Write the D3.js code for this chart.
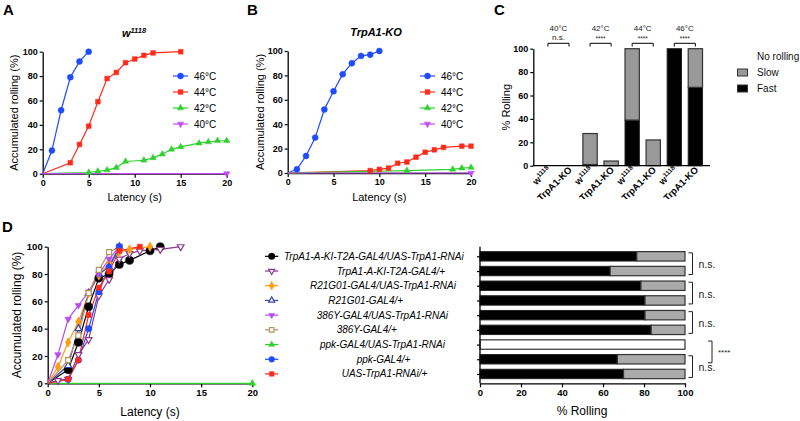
<!DOCTYPE html>
<html><head><meta charset="utf-8">
<script src="https://cdn.jsdelivr.net/npm/d3@7"></script>
<style>
body{margin:0;background:#fff}
svg{display:block}
text{font-family:"Liberation Sans",Arial,Helvetica,sans-serif}
</style>
</head><body>
<svg id="c" width="800" height="421"></svg>
<script>
// ---------------- DATA ----------------
const tempLabels = ["46°C", "44°C", "42°C", "40°C"];
// Panel A: w1118 accumulated rolling (%) vs latency (s)
const a46 = [[0,0],[1,19],[2,52],[3,79],[4,92],[5,100]];
const a44 = [[0,0],[3,9],[4,24],[5,39],[6,59],[7,78],[8,83],[9,91],[10,94],[11,97],[12,99],[15,100]];
const a42 = [[0,0],[5,1],[6,2],[7,3],[8,5],[9,10],[11,11],[12,13],[13,16],[14,20],[15,22],[17,25],[18,26],[19,27],[20,27]];
const a40 = [[0,0],[20,0]];
// Panel B: TrpA1-KO
const b46 = [[0,0],[1,3],[2,14],[3,29],[4,52],[5,67],[6,81],[7,90],[8,96],[9,97],[10,100]];
const b44 = [[0,0],[9,2],[10,3],[11,4],[12,8],[13,9],[14,13],[15,17],[16,19],[17,21],[19,22],[20,22]];
const b42 = [[0,0],[13,2],[18,3],[19,4],[20,4.5]];
const b40 = [[0,0],[20,0]];
const latencyTicks = [0,5,10,15,20];
const percentTicks = [0,20,40,60,80,100];

// Panel C
const cGroups = ["40°C", "42°C", "44°C", "46°C"];
const cSig = ["n.s.", "****", "****", "****"];
const cGenotypes = ["w1118", "TrpA1-KO"];
const cFast = [0, 0, 1, 0, 39, 0, 100, 67];
const cSlow = [0, 0, 26.5, 4, 61, 22, 0, 33];
const cLegend = ["No rolling", "Slow", "Fast"];

// Panel D
const dGenotypes = [
  "TrpA1-A-KI-T2A-GAL4/UAS-TrpA1-RNAi",
  "TrpA1-A-KI-T2A-GAL4/+",
  "R21G01-GAL4/UAS-TrpA1-RNAi",
  "R21G01-GAL4/+",
  "386Y-GAL4/UAS-TrpA1-RNAi",
  "386Y-GAL4/+",
  "ppk-GAL4/UAS-TrpA1-RNAi",
  "ppk-GAL4/+",
  "UAS-TrpA1-RNAi/+"
];
const d1 = [[0,0],[2,10],[3,30],[4,56],[5,77],[6,80],[7,87],[8,90],[10,97],[11,100]];
const d2 = [[0,0],[1,2],[2,3],[3,21],[4,32],[5,64],[6,76],[7,91],[8,95],[9,97],[11,98],[13,100]];
const d3s = [[0,0],[1,12],[2,30],[3,45],[4,66],[5,79],[6,88],[7,96],[8,98],[10,100]];
const d4 = [[0,0],[2,13],[3,40],[4,66],[5,80],[6,85],[7,100]];
const d5 = [[0,0],[1,21],[2,47],[3,57],[4,67],[5,80],[6,91],[7,100]];
const d6 = [[0,0],[2,17],[3,35],[4,66],[5,83],[6,96],[7,100]];
const d7 = [[0,0],[20,0]];
const d8 = [[0,0],[2,3],[3,17],[4,40],[5,67],[6,85],[7,100]];
const d9 = [[0,0],[2,3],[3,17],[4,50],[5,70],[6,82],[7,97],[9,100]];
const dFast = [76.5, 63.5, 78.5, 80.5, 80.5, 83.5, 0, 67, 70];
const dSlow = [23.5, 36.5, 21.5, 19.5, 19.5, 16.5, 0, 33, 30];
const dNone = [0, 0, 0, 0, 0, 0, 100, 0, 0];
const dPairs = [[0,1,"n.s."],[2,3,"n.s."],[4,5,"n.s."],[7,8,"n.s."]];
const dStarPair = [6,7,"****"];
const rollTicks = [0,20,40,60,80,100];

// ---------------- DRAWING ----------------
const svg = d3.select("#c");
const FONT = '"Liberation Sans",Arial,Helvetica,sans-serif';

const triDown = {draw(ctx, size){
  const sqrt3 = Math.sqrt(3);
  const yy = -Math.sqrt(size / (sqrt3 * 3));
  ctx.moveTo(0, -yy * 2); ctx.lineTo(-sqrt3 * yy, yy); ctx.lineTo(sqrt3 * yy, yy); ctx.closePath(); }};
const SYM = {circle: d3.symbolCircle, square: d3.symbolSquare, tri: d3.symbolTriangle, triDown: triDown, diamond: d3.symbolDiamond};
const SYMK = {circle: 1, square: 0.8, tri: 0.62, triDown: 0.62, diamond: 0.85};

function styleAxis(g, size) {
  g.select(".domain").attr("stroke", "#000").attr("stroke-width", 1.3);
  g.selectAll(".tick line").attr("stroke", "#000").attr("stroke-width", 1.2);
  g.selectAll(".tick text").attr("font-family", FONT).attr("font-weight", "bold")
    .attr("font-size", size || 9).attr("fill", "#000");
}

function marker(g, x, y, s, size) {
  const p = d3.symbol().type(SYM[s.sym]).size(size * SYMK[s.sym])();
  g.append("path").attr("d", p).attr("transform", `translate(${x},${y})`)
    .attr("fill", s.open ? "#fff" : s.color).attr("stroke", s.color)
    .attr("stroke-width", s.open ? 1.2 : 0.5);
}

function lineChart(o) {
  const x = d3.scaleLinear().domain([0, 20]).range(o.xr);
  const y = d3.scaleLinear().domain([0, 100]).range(o.yr);
  const gx = svg.append("g").attr("transform", `translate(0,${o.yr[0]})`)
    .call(d3.axisBottom(x).tickValues(latencyTicks).tickSize(4).tickSizeOuter(0).tickPadding(2));
  styleAxis(gx, o.tickFont);
  const gy = svg.append("g").attr("transform", `translate(${o.xr[0]},0)`)
    .call(d3.axisLeft(y).tickValues(percentTicks).tickSize(3).tickSizeOuter(0).tickPadding(2));
  styleAxis(gy, o.tickFont);
  const line = d3.line().x(d => x(d[0])).y(d => y(d[1]));
  const g = svg.append("g");
  o.series.forEach(s => {
    g.append("path").attr("d", line(s.data)).attr("fill", "none")
      .attr("stroke", s.color).attr("stroke-width", 1.2);
  });
  o.series.forEach(s => {
    s.data.filter(d => d[0] > 0).forEach(d => marker(g, x(d[0]), y(d[1]), s, o.msize * (s.scale || 1)));
  });
  svg.append("text").attr("x", (o.xr[0] + o.xr[1]) / 2).attr("y", o.xlabY)
    .attr("text-anchor", "middle").attr("font-size", o.labFont).attr("fill", "#000").text("Latency (s)");
  svg.append("text").attr("transform", `translate(${o.ylabX},${(o.yr[0] + o.yr[1]) / 2}) rotate(-90)`)
    .attr("text-anchor", "middle").attr("font-size", o.labFont).attr("fill", "#000").text("Accumulated rolling (%)");
  return {x, y};
}

function tempLegend(lx, ly, series) {
  series.forEach((s, i) => {
    const yy = ly + i * 16;
    svg.append("line").attr("x1", lx).attr("x2", lx + 15).attr("y1", yy).attr("y2", yy)
      .attr("stroke", s.color).attr("stroke-width", 1.2);
    marker(svg, lx + 7.5, yy, s, 28);
    svg.append("text").attr("x", lx + 21).attr("y", yy + 3.6).attr("font-size", 10).attr("fill", "#000").text(tempLabels[i]);
  });
}

function panelLabel(t, x, y) {
  svg.append("text").attr("x", x).attr("y", y).attr("font-size", 15).attr("font-weight", "bold").attr("fill", "#000").text(t);
}

const COL = {b46: "#1f4bff", r44: "#ff2a1a", g42: "#2ed12e", v40: "#c34cf5"};

// Panel A
panelLabel("A", 3, 15);
const tA = svg.append("text").attr("x", 134).attr("y", 37).attr("text-anchor", "middle")
  .attr("font-size", 11).attr("font-weight", "bold").attr("font-style", "italic").attr("fill", "#000");
tA.append("tspan").text("w");
tA.append("tspan").attr("dy", -4).attr("font-size", 7.5).text("1118");
const seriesA = [
  {data: a46, color: COL.b46, sym: "circle"},
  {data: a44, color: COL.r44, sym: "square"},
  {data: a42, color: COL.g42, sym: "tri"},
  {data: a40, color: COL.v40, sym: "triDown"}
];
lineChart({xr: [42.7, 226.7], yr: [173.7, 51.7], series: seriesA, msize: 28, tickFont: 9,
  labFont: 11, xlabY: 201, ylabX: 18});
tempLegend(173, 76, seriesA);

// Panel B
panelLabel("B", 247, 15);
svg.append("text").attr("x", 376).attr("y", 36).attr("text-anchor", "middle")
  .attr("font-size", 11).attr("font-weight", "bold").attr("font-style", "italic").attr("fill", "#000").text("TrpA1-KO");
const seriesB = [
  {data: b46, color: COL.b46, sym: "circle"},
  {data: b44, color: COL.r44, sym: "square"},
  {data: b42, color: COL.g42, sym: "tri"},
  {data: b40, color: COL.v40, sym: "triDown"}
];
lineChart({xr: [287.7, 471], yr: [173, 51], series: seriesB, msize: 28, tickFont: 9,
  labFont: 11, xlabY: 201, ylabX: 263.5});
tempLegend(420, 76, seriesB);

// Panel C
panelLabel("C", 494, 15);
const cCats = [];
cGroups.forEach((g, gi) => cGenotypes.forEach((t, ti) => cCats.push(gi * 2 + ti)));
const cx = d3.scaleBand().domain(cCats).range([533.3, 710]).paddingInner(0.32).paddingOuter(0.355);
const cy = d3.scaleLinear().domain([0, 100]).range([165.7, 48.7]);
svg.append("defs").append("clipPath").attr("id", "clipC")
  .append("rect").attr("x", 470).attr("y", 0).attr("width", 330).attr("height", 199);
const gC = svg.append("g");
cCats.forEach(i => {
  const f = cFast[i], s = cSlow[i];
  if (f > 0) gC.append("rect").attr("x", cx(i)).attr("width", cx.bandwidth())
    .attr("y", cy(f)).attr("height", cy(0) - cy(f)).attr("fill", "#000").attr("stroke", "#222").attr("stroke-width", 1);
  if (s > 0) gC.append("rect").attr("x", cx(i)).attr("width", cx.bandwidth())
    .attr("y", cy(f + s)).attr("height", cy(f) - cy(f + s)).attr("fill", "#999").attr("stroke", "#333").attr("stroke-width", 1.2);
});
const gCy = svg.append("g").attr("transform", "translate(533.3,0)")
  .call(d3.axisLeft(cy).tickValues(percentTicks).tickSize(3).tickSizeOuter(0).tickPadding(2));
styleAxis(gCy, 9);
svg.append("line").attr("x1", 533.3).attr("x2", 710).attr("y1", 165.7).attr("y2", 165.7)
  .attr("stroke", "#000").attr("stroke-width", 1.3);
svg.append("text").attr("transform", `translate(510,${(165.7 + 48.7) / 2}) rotate(-90)`)
  .attr("text-anchor", "middle").attr("font-size", 11).attr("fill", "#000").text("% Rolling");
const gCl = svg.append("g").attr("clip-path", "url(#clipC)");
cCats.forEach(i => {
  const xc = cx(i) + cx.bandwidth() / 2;
  const t = gCl.append("text").attr("transform", `translate(${xc + 3.5},170.5) rotate(-45)`)
    .attr("text-anchor", "end").attr("font-size", 9.5).attr("font-weight", "bold").attr("fill", "#000");
  if (i % 2 === 0) {
    t.append("tspan").text("w");
    t.append("tspan").attr("dy", -3.5).attr("font-size", 6.5).text("1118");
  } else {
    t.text(cGenotypes[1]);
  }
});
cGroups.forEach((g, gi) => {
  const x1 = cx(gi * 2) + cx.bandwidth() / 2, x2 = cx(gi * 2 + 1) + cx.bandwidth() / 2;
  svg.append("path").attr("d", `M${x1},46.5V43.3H${x2}V46.5`).attr("fill", "none")
    .attr("stroke", "#000").attr("stroke-width", 1);
  svg.append("text").attr("x", (x1 + x2) / 2).attr("y", 31).attr("text-anchor", "middle")
    .attr("font-size", 8).attr("fill", "#222").text(g);
  svg.append("text").attr("x", (x1 + x2) / 2).attr("y", cSig[gi] === "n.s." ? 39.8 : 41)
    .attr("text-anchor", "middle").attr("font-size", cSig[gi] === "n.s." ? 8 : 6.5)
    .attr("fill", "#222").text(cSig[gi]);
});
// legend C
svg.append("text").attr("x", 757).attr("y", 60).attr("font-size", 10).attr("fill", "#111").text(cLegend[0]);
[["#999", cLegend[1]], ["#000", cLegend[2]]].forEach((d, i) => {
  const yy = 72.5 + i * 16;
  svg.append("rect").attr("x", 737.5).attr("y", yy - 3.5).attr("width", 10).attr("height", 7)
    .attr("fill", d[0]).attr("stroke", "#333").attr("stroke-width", 1);
  svg.append("text").attr("x", 757).attr("y", yy + 3.7).attr("font-size", 10).attr("fill", "#111").text(d[1]);
});

// Panel D left
panelLabel("D", 2, 232);
const seriesD = [
  {data: d1, color: "#000000", sym: "circle", scale: 1.6},
  {data: d2, color: "#8a3a8f", sym: "triDown", open: true},
  {data: d3s, color: "#ff9c13", sym: "diamond"},
  {data: d4, color: "#3a45b0", sym: "tri", open: true},
  {data: d5, color: "#b64cf0", sym: "triDown"},
  {data: d6, color: "#b8925e", sym: "square", open: true},
  {data: d7, color: "#2ed12e", sym: "tri"},
  {data: d8, color: "#1f4bff", sym: "circle"},
  {data: d9, color: "#ff2a1a", sym: "square"}
];
lineChart({xr: [47.7, 252.3], yr: [383.3, 246.7], series: seriesD, msize: 32, tickFont: 9.5,
  labFont: 12, xlabY: 416, ylabX: 21});

// legend D
const legTextX = [284, 336.7, 310, 328.3, 316.7, 336.7, 320, 356.7, 341.7];
const dy = d3.scaleBand().domain(d3.range(dGenotypes.length)).range([247, 383.3])
  .paddingInner(0.36).paddingOuter(0.315);
dGenotypes.forEach((name, i) => {
  const s = seriesD[i];
  const yy = dy(i) + dy.bandwidth() / 2;
  svg.append("line").attr("x1", 265).attr("x2", 278.3).attr("y1", yy).attr("y2", yy)
    .attr("stroke", s.color).attr("stroke-width", 1.2);
  marker(svg, 271.7, yy, s, 26 * (s.scale ? 1.3 : 1));
  svg.append("text").attr("x", legTextX[i]).attr("y", yy + 3.5).attr("font-size", 10)
    .attr("font-style", "italic").attr("fill", "#000").text(name);
});

// Panel D right bars
const dx = d3.scaleLinear().domain([0, 100]).range([480, 685]);
const gD = svg.append("g");
dGenotypes.forEach((name, i) => {
  const y0 = dy(i), h = dy.bandwidth();
  if (dFast[i] > 0) gD.append("rect").attr("x", dx(0)).attr("y", y0).attr("height", h)
    .attr("width", dx(dFast[i]) - dx(0)).attr("fill", "#000").attr("stroke", "#222").attr("stroke-width", 1);
  if (dSlow[i] > 0) gD.append("rect").attr("x", dx(dFast[i])).attr("y", y0).attr("height", h)
    .attr("width", dx(dFast[i] + dSlow[i]) - dx(dFast[i])).attr("fill", "#aaa").attr("stroke", "#333").attr("stroke-width", 1.2);
  if (dNone[i] > 0) gD.append("rect").attr("x", dx(dFast[i] + dSlow[i])).attr("y", y0).attr("height", h)
    .attr("width", dx(dFast[i] + dSlow[i] + dNone[i]) - dx(dFast[i] + dSlow[i])).attr("fill", "#fff").attr("stroke", "#333").attr("stroke-width", 1.2);
});
const gDx = svg.append("g").attr("transform", "translate(0,383.3)")
  .call(d3.axisBottom(dx).tickValues(rollTicks).tickSize(4).tickSizeOuter(0).tickPadding(2));
styleAxis(gDx, 9.5);
const gDy = svg.append("g").attr("transform", "translate(480,0)")
  .call(d3.axisLeft(d3.scalePoint().domain(d3.range(dGenotypes.length))
    .range([dy(0) + dy.bandwidth() / 2, dy(8) + dy.bandwidth() / 2])).tickSize(3).tickSizeOuter(0).tickFormat(""));
styleAxis(gDy, 9);
gDy.select(".domain").remove();
svg.append("line").attr("x1", 480).attr("x2", 480).attr("y1", 246.7).attr("y2", 383.3)
  .attr("stroke", "#000").attr("stroke-width", 1.3);
svg.append("text").attr("x", 582).attr("y", 415).attr("text-anchor", "middle").attr("font-size", 12).attr("fill", "#000").text("% Rolling");

function bracket(a, b, xb, label, small) {
  const ya = dy(a) + dy.bandwidth() / 2 - 3.5, yb = dy(b) + dy.bandwidth() / 2 + 3.5;
  svg.append("path").attr("d", `M${xb - 4},${ya}H${xb}V${yb}H${xb - 4}`).attr("fill", "none")
    .attr("stroke", "#222").attr("stroke-width", 1);
  svg.append("text").attr("x", xb + 6).attr("y", (ya + yb) / 2 + (small ? 3 : 4.5))
    .attr("font-size", small ? 8 : 10.5).attr("fill", "#222").text(label);
}
dPairs.forEach(p => bracket(p[0], p[1], 692.5, p[2], false));
bracket(dStarPair[0], dStarPair[1], 712, dStarPair[2], true);
</script>
</body></html>
